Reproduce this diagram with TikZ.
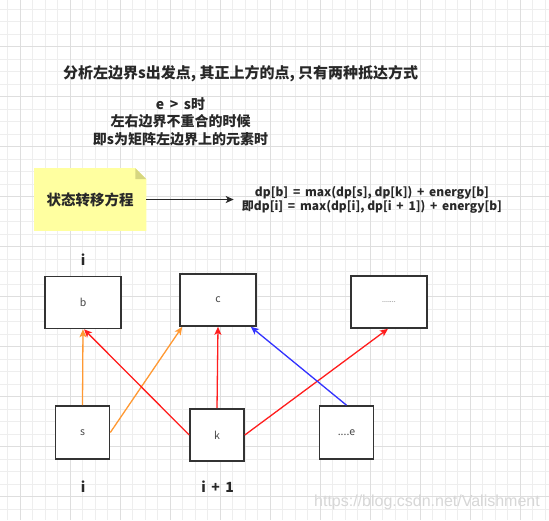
\documentclass[tikz,border=0pt]{standalone}
\usepackage{fontspec}
\setmainfont{Noto Sans CJK SC}
\newfontfamily\wmfont{Liberation Sans}
\usetikzlibrary{arrows.meta,calc}
\definecolor{gridminor}{RGB}{238,238,238}
\definecolor{gridmajor}{RGB}{222,222,222}
\definecolor{boxc}{RGB}{51,51,51}
\definecolor{boxt}{RGB}{70,70,70}
\definecolor{txt}{RGB}{40,40,40}
\definecolor{notefill}{RGB}{255,255,160}
\definecolor{notefold}{RGB}{214,214,128}
\definecolor{orangec}{RGB}{255,153,51}
\definecolor{redc}{RGB}{255,30,30}
\definecolor{bluec}{RGB}{51,51,255}
\definecolor{arrc}{RGB}{40,40,40}
\definecolor{wmark}{RGB}{215,215,215}
\begin{document}
\begin{tikzpicture}[x=1pt,y=-1pt,
  box/.style={draw=boxc, line width=1.6pt, fill=white, minimum width=76pt, minimum height=52pt, inner sep=0pt, font=\fontsize{10.5}{12}\selectfont, text=boxt},
  sbox/.style={box, minimum width=54pt, minimum height=53pt},
  lbl/.style={font=\fontsize{14}{16}\selectfont\bfseries, text=txt, inner sep=0pt},
  tip/.style={-{Stealth[length=8pt,width=7pt,inset=2pt]}, line width=1.3pt},
]
\useasboundingbox (0,0) rectangle (549,520);
\fill[white] (0,0) rectangle (549,520);
% grid
\foreach \i in {0,...,43} \draw[gridminor, line width=0.8pt] ({7.5+12.5*\i},0) -- ({7.5+12.5*\i},520);
\foreach \i in {0,...,41} \draw[gridminor, line width=0.8pt] (0,{9.2+12.5*\i}) -- (549,{9.2+12.5*\i});
\foreach \i in {0,...,10} \draw[gridmajor, line width=0.9pt] ({20+50*\i},0) -- ({20+50*\i},520);
\foreach \i in {0,...,9} \draw[gridmajor, line width=0.9pt] (0,{46.7+50*\i}) -- (549,{46.7+50*\i});

% texts
\node[lbl, font=\fontsize{15}{16}\selectfont\bfseries] (title) at (240.7,74) {分析左边界s出发点, 其正上方的点, 只有两种抵达方式};
\node[lbl, align=center, font=\fontsize{14}{17.5}\selectfont\bfseries] (cond) at (180.5,121.5) {e \,>\, s时\\左右边界不重合的时候\\即s为矩阵左边界上的元素时};

% note
\node[minimum width=111.7pt, minimum height=62.4pt, inner sep=0pt] (note) at (90.2,199.5) {};
\fill[notefill] (note.south west) -- (note.north west) -- ($(note.north east)+(-11,0)$) -- ($(note.north east)+(0,11)$) -- (note.south east) -- cycle;
\fill[notefold] ($(note.north east)+(-11,0)$) -- ($(note.north east)+(0,11)$) -- ($(note.north east)+(-11,11)$) -- cycle;
\node[lbl, font=\fontsize{14.5}{16}\selectfont\bfseries] (notetext) at (note.center) {状态转移方程};

\node[lbl, align=center, inner xsep=8pt, font=\fontsize{12}{12.5}\selectfont\bfseries] (dp) at (372,199.5) {dp[b] \,=\, max(dp[s], dp[k]) \,+\, energy[b]\\即dp[i] \,=\, max(dp[i], dp[i \,+\, 1]) \,+\, energy[b]};
\draw[tip, draw=arrc, fill=arrc] (note.east) -- (dp.west);

% boxes
\node[box] (b) at (83,302.5) {b};
\node[box] (c) at (218,300) {c};
\node[box, font=\fontsize{7}{8}\selectfont] (dots) at (389,302) {.......};
\node[sbox] (s) at (82.5,432.5) {s};
\node[sbox, minimum height=52pt] (k) at (217,435) {k};
\node[sbox] (e) at (346.5,432.5) {....e};

% labels
\node[lbl] (itop) at (83,259.3) {i};
\node[lbl] (ibot) at (83,486.7) {i};
\node[lbl] (iplus) at (217.7,486.7) {i \,+\, 1};

% connectors
\draw[tip, draw=orangec, fill=orangec] (s.north) -- (b.south);
\draw[tip, draw=orangec, fill=orangec] (s.east) -- ([xshift=3pt]c.south west);
\draw[tip, draw=redc, fill=redc] (k.west) -- ([xshift=1pt]b.south);
\draw[tip, draw=redc, fill=redc] (k.north) -- (c.south);
\draw[tip, draw=redc, fill=redc] (k.east) -- ([xshift=-1pt]dots.south);
\draw[tip, draw=bluec, fill=bluec] (e.north) -- ([xshift=-6pt]c.south east);

% watermark
\node[text=wmark, inner sep=0pt, font=\wmfont\fontsize{16}{18}\selectfont] (wm) at (427,502) {https://blog.csdn.net/Valishment};
\end{tikzpicture}
\end{document}
